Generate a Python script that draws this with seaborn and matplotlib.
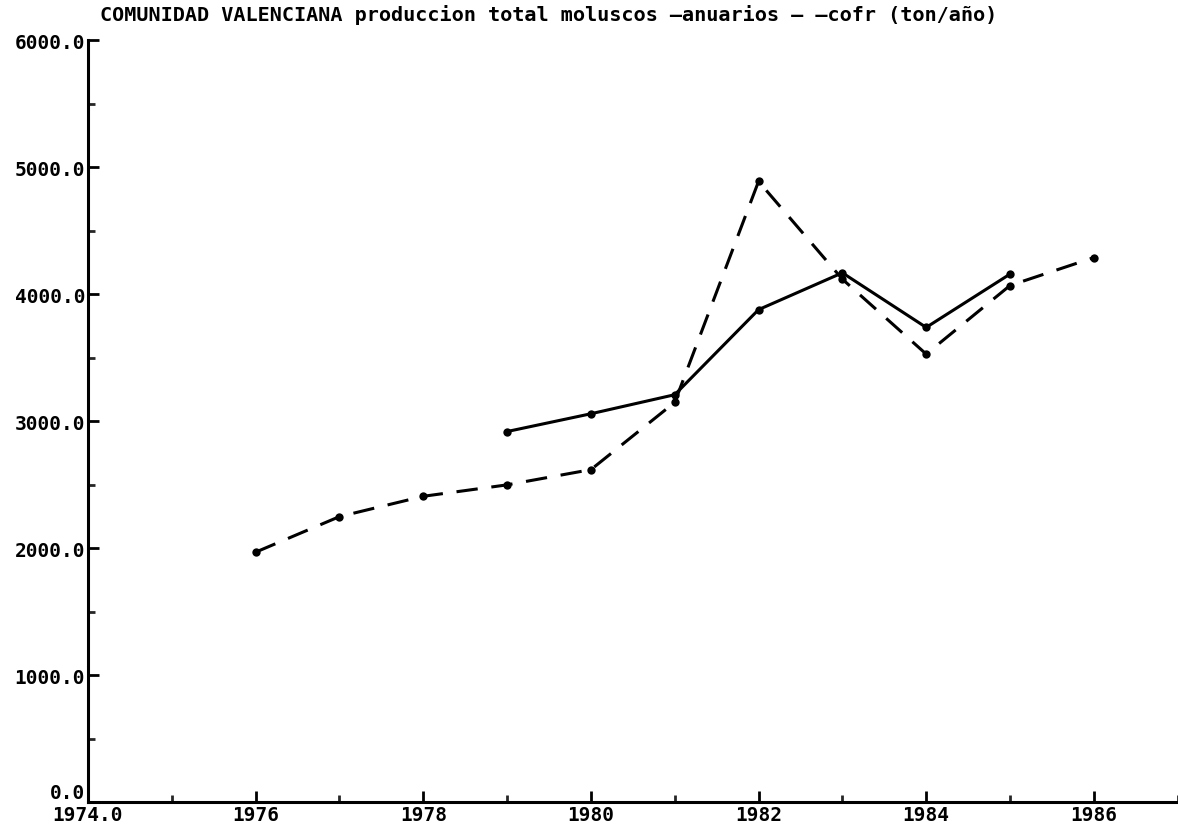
import seaborn as sns
import pandas as pd
import matplotlib.pyplot as plt
from matplotlib.ticker import MultipleLocator

# values (ton/año)
years_anuarios = [1979, 1980, 1981, 1982, 1983, 1984, 1985]
anuarios = [2920, 3060, 3210, 3880, 4170, 3740, 4160]

years_cofr = [1976, 1977, 1978, 1979, 1980, 1981, 1982, 1983, 1984, 1985, 1986]
cofr = [1970, 2250, 2410, 2500, 2620, 3150, 4890, 4120, 3530, 4070, 4290]

x_tick_values = [1974, 1976, 1978, 1980, 1982, 1984, 1986]
x_tick_labels = ["1974.0", "1976", "1978", "1980", "1982", "1984", "1986"]
y_tick_values = [0, 1000, 2000, 3000, 4000, 5000, 6000]
y_tick_labels = ["0.0", "1000.0", "2000.0", "3000.0", "4000.0", "5000.0", "6000.0"]

title = "COMUNIDAD VALENCIANA produccion total moluscos \u2014anuarios \u2013 \u2013cofr (ton/a\u00f1o)"

df_a = pd.DataFrame({"Year": years_anuarios, "Value": anuarios})
df_c = pd.DataFrame({"Year": years_cofr, "Value": cofr})

sns.set_style("ticks")
plt.rcParams["font.family"] = ["DejaVu Sans Mono", "DejaVu Sans"]
plt.rcParams["font.weight"] = "bold"

fig = plt.figure(figsize=(11.78, 8.29), dpi=100)
ax = fig.add_axes([0.0747, 0.031, 0.925, 0.919])

sns.lineplot(data=df_a, x="Year", y="Value", ax=ax, color="black", linewidth=2.2,
             marker="o", markersize=6, markeredgewidth=0)
sns.lineplot(data=df_c, x="Year", y="Value", ax=ax, color="black", linewidth=2.2,
             linestyle=(0, (7, 4.5)), marker="o", markersize=6, markeredgewidth=0)

ax.set_xlim(1974, 1987)
ax.set_ylim(0, 6000)
ax.set_xticks(x_tick_values)
ax.set_xticklabels(x_tick_labels)
ax.set_yticks(y_tick_values)
ax.set_yticklabels(y_tick_labels)
ax.xaxis.set_minor_locator(MultipleLocator(1))
ax.yaxis.set_minor_locator(MultipleLocator(500))
ax.set_xlabel("")
ax.set_ylabel("")

ax.tick_params(axis="both", which="major", direction="in", length=8, width=2,
               labelsize=14, colors="black", pad=2)
ax.tick_params(axis="both", which="minor", direction="in", length=5, width=2)
for lab in ax.get_xticklabels() + ax.get_yticklabels():
    lab.set_fontweight("bold")
# the "0.0" label sits just above the x axis
ax.get_yticklabels()[0].set_verticalalignment("bottom")

sns.despine(ax=ax)
for s in ["left", "bottom"]:
    ax.spines[s].set_linewidth(2.2)
    ax.spines[s].set_color("black")

fig.text(0.085, 0.982, title, fontsize=14.5, fontweight="bold", color="black",
         ha="left", va="center")

plt.savefig("out.png", dpi=100)
